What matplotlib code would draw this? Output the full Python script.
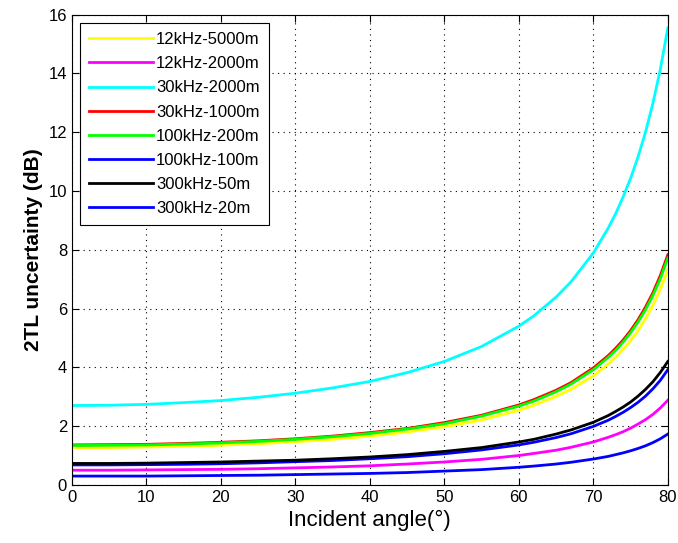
import numpy as np
import matplotlib.pyplot as plt

plt.rcParams['font.family'] = ['Liberation Sans', 'DejaVu Sans']

#### data
angle = [0, 5, 10, 15, 20, 25, 30, 35, 40, 45, 50, 55, 60, 62, 65, 67, 70, 72, 73, 74, 75, 76, 77, 78, 79, 80]

y_12k_5000 = [1.27, 1.27, 1.29, 1.31, 1.35, 1.40, 1.47, 1.55, 1.66, 1.80, 1.98, 2.21, 2.54, 2.71, 3.01, 3.25, 3.71, 4.11, 4.34, 4.61, 4.91, 5.25, 5.65, 6.11, 6.66, 7.31]
y_12k_2000 = [0.50, 0.50, 0.51, 0.52, 0.53, 0.55, 0.58, 0.61, 0.65, 0.71, 0.78, 0.87, 1.00, 1.07, 1.18, 1.28, 1.46, 1.62, 1.71, 1.81, 1.93, 2.07, 2.22, 2.40, 2.62, 2.88]
y_30k_2000 = [2.70, 2.71, 2.74, 2.80, 2.87, 2.98, 3.12, 3.30, 3.52, 3.82, 4.20, 4.71, 5.40, 5.75, 6.39, 6.91, 7.89, 8.74, 9.23, 9.80, 10.43, 11.16, 12.00, 12.99, 14.15, 15.55]
y_30k_1000 = [1.36, 1.37, 1.38, 1.41, 1.45, 1.50, 1.57, 1.66, 1.78, 1.92, 2.12, 2.37, 2.72, 2.90, 3.22, 3.48, 3.98, 4.40, 4.65, 4.93, 5.25, 5.62, 6.05, 6.54, 7.13, 7.83]
y_100k_200 = [1.34, 1.35, 1.36, 1.39, 1.43, 1.48, 1.55, 1.64, 1.75, 1.90, 2.08, 2.34, 2.68, 2.85, 3.17, 3.43, 3.92, 4.34, 4.58, 4.86, 5.18, 5.54, 5.96, 6.45, 7.02, 7.72]
y_100k_100 = [0.68, 0.68, 0.69, 0.70, 0.72, 0.75, 0.79, 0.83, 0.89, 0.96, 1.06, 1.19, 1.36, 1.45, 1.61, 1.74, 1.99, 2.20, 2.33, 2.47, 2.63, 2.81, 3.02, 3.27, 3.56, 3.92]
y_300k_50 = [0.73, 0.73, 0.74, 0.76, 0.78, 0.81, 0.84, 0.89, 0.95, 1.03, 1.14, 1.27, 1.46, 1.55, 1.73, 1.87, 2.13, 2.36, 2.50, 2.65, 2.82, 3.02, 3.25, 3.51, 3.83, 4.20]
y_300k_20 = [0.30, 0.30, 0.30, 0.31, 0.32, 0.33, 0.35, 0.37, 0.39, 0.42, 0.47, 0.52, 0.60, 0.64, 0.71, 0.77, 0.88, 0.97, 1.03, 1.09, 1.16, 1.24, 1.33, 1.44, 1.57, 1.73]

labels = ['12kHz-5000m', '12kHz-2000m', '30kHz-2000m', '30kHz-1000m',
          '100kHz-200m', '100kHz-100m', '300kHz-50m', '300kHz-20m']
series = [y_12k_5000, y_12k_2000, y_30k_2000, y_30k_1000,
          y_100k_200, y_100k_100, y_300k_50, y_300k_20]
colors = ['#ffff00', '#ff00ff', '#00ffff', '#ff0000',
          '#00ff00', '#0000ff', '#000000', '#0000ff']
####

fig = plt.figure(figsize=(6.78, 5.43), dpi=100)
ax = fig.add_axes([0.106, 0.107, 0.879, 0.866])

for y, lab, c in zip(series, labels, colors):
    ax.plot(angle, y, color=c, lw=2.0, label=lab)

ax.set_xlim(0, 80)
ax.set_ylim(0, 16)
ax.set_xticks(np.arange(0, 81, 10))
ax.set_yticks(np.arange(0, 17, 2))
ax.grid(True, color='black', linestyle=(0, (1, 4)), linewidth=0.8)
ax.tick_params(direction='in', top=True, right=True, labelsize=12, length=5)
ax.set_xlabel('Incident angle(°)', fontsize=16)
ax.set_ylabel('2TL uncertainty (dB)', fontsize=15, fontweight='bold')

leg = ax.legend(loc='upper left', fontsize=12, fancybox=False, framealpha=1,
                edgecolor='black', handlelength=3.8, labelspacing=0.55,
                borderaxespad=0.5, handletextpad=0.2, borderpad=0.55)
leg.get_frame().set_linewidth(0.8)

plt.savefig('out.png', dpi=100)
